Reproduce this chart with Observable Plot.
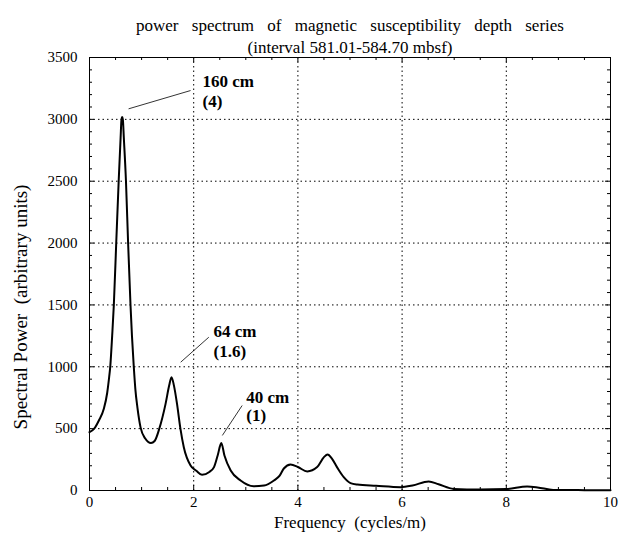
<!DOCTYPE html>
<html>
<head>
<meta charset="utf-8">
<script src="https://cdn.jsdelivr.net/npm/d3@7"></script>
<script src="https://cdn.jsdelivr.net/npm/@observablehq/plot@0.6"></script>
<style>
  html, body { margin: 0; padding: 0; background: white; }
  #chart svg { display: block; }
</style>
</head>
<body>
<div id="chart"></div>
<script>
// ---- data ----
const frequency = [0.00,0.09,0.18,0.275,0.34,0.37,0.40,0.435,0.467,0.513,0.56,0.597,0.614,0.627,0.640,0.659,0.700,0.741,0.787,0.815,0.85,0.88,0.92,0.98,1.07,1.18,1.25,1.34,1.46,1.53,1.574,1.62,1.68,1.745,1.81,1.94,2.05,2.16,2.30,2.39,2.46,2.53,2.59,2.71,2.90,3.15,3.35,3.54,3.65,3.73,3.86,4.00,4.18,4.37,4.50,4.57,4.65,4.75,4.88,5.01,5.14,5.50,5.97,6.20,6.51,6.70,6.99,7.50,8.00,8.40,8.60,8.90,9.50,10.00];
const power     = [471,500,566,660,790,890,1010,1250,1500,2000,2500,2850,3000,3020,3000,2850,2500,2000,1500,1250,1000,820,670,510,420,383,400,500,700,850,916,850,700,500,350,202,160,127,150,189,283,383,283,162,81,35,40,81,120,178,210,190,154,189,270,291,260,189,108,60,48,38,27,40,73,50,13,8,12,32,25,5,3,2];

const xTicks = [0, 2, 4, 6, 8, 10];
const yTicks = [0, 500, 1000, 1500, 2000, 2500, 3000, 3500];
const xMinor = [0.5,1,1.5,2.5,3,3.5,4.5,5,5.5,6.5,7,7.5,8.5,9,9.5];
const yMinor = [100,200,300,400,600,700,800,900,1100,1200,1300,1400,1600,1700,1800,1900,2100,2200,2300,2400,2600,2700,2800,2900,3100,3200,3300,3400];

const titleLines = ["power spectrum of magnetic susceptibility depth series", "(interval 581.01-584.70 mbsf)"];
const xLabel = "Frequency\u00a0 (cycles/m)";
const yLabel = "Spectral Power\u00a0 (arbitrary units)";

// annotations: label lines with anchor position (data units) and leader line ends
const annLabel1 = ["160 cm", "64 cm", "40 cm"];
const annLabel2 = ["(4)", "(1.6)", "(1)"];
const annX      = [2.17, 2.38, 3.01];
const annY1     = [3306, 1285, 752];
const annY2     = [3144, 1124, 606];
const leadX1    = [0.75, 1.75, 2.55];
const leadY1    = [3085, 1037, 445];
const leadX2    = [1.94, 2.29, 2.93];
const leadY2    = [3233, 1239, 687];

// ---- tables ----
const series = frequency.map((f, i) => ({f, p: power[i]}));
const ann = annLabel1.map((t, i) => ({t1: t, t2: annLabel2[i], x: annX[i], y1: annY1[i], y2: annY2[i],
  lx1: leadX1[i], ly1: leadY1[i], lx2: leadX2[i], ly2: leadY2[i]}));

const W = 630, H = 534, mL = 89, mR = 20, mT = 57, mB = 44;
const fw = W - mL - mR, fh = H - mT - mB;
const major = 5, minor = 3;
const font = "'Liberation Serif', 'Times New Roman', serif";

const chart = Plot.plot({
  width: W, height: H,
  marginLeft: mL, marginRight: mR, marginTop: mT, marginBottom: mB,
  style: {fontFamily: font, fontSize: "15px", background: "white", color: "black"},
  x: {domain: [0, 10], ticks: xTicks, tickSize: 0, tickPadding: 6, label: null},
  y: {domain: [0, 3500], ticks: yTicks, tickSize: 0, tickPadding: 12, label: null, tickFormat: "d"},
  marks: [
    // dotted grid
    Plot.ruleX(xTicks.slice(1, -1), {stroke: "black", strokeWidth: 1, strokeDasharray: "1.5,3"}),
    Plot.ruleY(yTicks.slice(1, -1), {stroke: "black", strokeWidth: 1, strokeDasharray: "1.5,3"}),
    // inward ticks, all four sides
    Plot.ruleX(xTicks, {stroke: "black", insetTop: fh - major}),
    Plot.ruleX(xTicks, {stroke: "black", insetBottom: fh - major}),
    Plot.ruleX(xMinor, {stroke: "black", insetTop: fh - minor}),
    Plot.ruleX(xMinor, {stroke: "black", insetBottom: fh - minor}),
    Plot.ruleY(yTicks, {stroke: "black", insetRight: fw - major}),
    Plot.ruleY(yTicks, {stroke: "black", insetLeft: fw - major}),
    Plot.ruleY(yMinor, {stroke: "black", insetRight: fw - minor}),
    Plot.ruleY(yMinor, {stroke: "black", insetLeft: fw - minor}),
    Plot.frame({stroke: "black", strokeWidth: 1}),
    // spectrum
    Plot.line(series, {x: "f", y: "p", stroke: "black", strokeWidth: 2, curve: "monotone-x"}),
    // annotations
    Plot.link(ann, {x1: "lx1", y1: "ly1", x2: "lx2", y2: "ly2", stroke: "black", strokeWidth: 0.8}),
    Plot.text(ann, {x: "x", y: "y1", text: "t1", textAnchor: "start", fontWeight: "bold", fontSize: 17, fill: "black"}),
    Plot.text(ann, {x: "x", y: "y2", text: "t2", textAnchor: "start", fontWeight: "bold", fontSize: 17, fill: "black"}),
    // titles and axis labels
    Plot.text([titleLines[0]], {frameAnchor: "top", dy: -39, fontSize: 17, fill: "black"}),
    Plot.text([titleLines[1]], {frameAnchor: "top", dy: -17, fontSize: 17, fill: "black"}),
    Plot.text([xLabel], {frameAnchor: "bottom", dy: 37, fontSize: 17, fill: "black"}),
    Plot.text([yLabel], {frameAnchor: "left", textAnchor: "middle", dx: -69, dy: 33, rotate: -90, fontSize: 19, fill: "black"})
  ]
});
// wider word spacing on the first title line, as in the reference
d3.select(chart).selectAll("text")
  .filter(function () { return this.textContent === titleLines[0]; })
  .style("word-spacing", "9px");
document.getElementById("chart").appendChild(chart);
</script>
</body>
</html>
